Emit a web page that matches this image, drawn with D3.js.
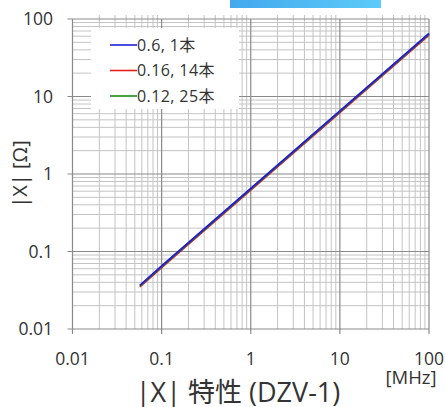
<!DOCTYPE html>
<html>
<head>
<meta charset="utf-8">
<script src="https://cdn.jsdelivr.net/npm/d3@7"></script>
<style>
  body { margin: 0; background: #fff; }
  svg { display: block; }
  text { font-family: "Open Sans", "Noto Sans CJK JP", sans-serif; fill: #333; }
</style>
</head>
<body>
<svg id="chart" width="445" height="407"></svg>
<script>
// frequency [MHz]
var freqs = [0.057, 0.1, 1, 10, 100];
// |X| [ohm] per wire spec
var seriesNames = ["0.6, 1本", "0.16, 14本", "0.12, 25本"];
var seriesColors = ["#1f1fd6", "#e8201a", "#1a8a1a"];
var blueVals  = [0.0365, 0.065, 0.65, 6.5, 65];
var redVals   = [0.035, 0.062, 0.62, 6.2, 62];
var greenVals = [0.036, 0.064, 0.64, 6.4, 64];
var tickVals = [0.01, 0.1, 1, 10, 100];
var tickLabels = ["0.01", "0.1", "1", "10", "100"];

var svg = d3.select("#chart");

var x = d3.scaleLog().domain([0.01, 100]).range([72.5, 429]);
var y = d3.scaleLog().domain([0.01, 100]).range([329, 19]);

// blue header bar
var grad = svg.append("defs").append("linearGradient").attr("id", "bar");
grad.append("stop").attr("offset", "0%").attr("stop-color", "#44a8ee");
grad.append("stop").attr("offset", "100%").attr("stop-color", "#5ccbf9");
svg.append("rect").attr("x", 230).attr("y", 0).attr("width", 151).attr("height", 8)
  .attr("fill", "url(#bar)");

// minor grid values
var minor = [];
tickVals.slice(0, 4).forEach(function(d) {
  for (var k = 2; k <= 9; k++) minor.push(d * k);
});

var grid = svg.append("g");
grid.selectAll(".vmin").data(minor).enter().append("line")
  .attr("x1", function(d) { return x(d); }).attr("x2", function(d) { return x(d); })
  .attr("y1", y(100) - 4).attr("y2", y(0.01))
  .attr("stroke", "#c4c4c4").attr("stroke-width", 1);
grid.selectAll(".hmin").data(minor).enter().append("line")
  .attr("y1", function(d) { return y(d); }).attr("y2", function(d) { return y(d); })
  .attr("x1", x(0.01)).attr("x2", x(100))
  .attr("stroke", "#c4c4c4").attr("stroke-width", 1);
grid.selectAll(".vmaj").data(tickVals).enter().append("line")
  .attr("x1", function(d) { return x(d); }).attr("x2", function(d) { return x(d); })
  .attr("y1", y(100)).attr("y2", y(0.01) + 5)
  .attr("stroke", "#8a8a8a").attr("stroke-width", 1.2);
grid.selectAll(".hmaj").data(tickVals).enter().append("line")
  .attr("y1", function(d) { return y(d); }).attr("y2", function(d) { return y(d); })
  .attr("x1", x(0.01) - 5).attr("x2", x(100))
  .attr("stroke", "#8a8a8a").attr("stroke-width", 1.2);

// legend box (drawn under the curves)
svg.append("rect").attr("x", 91).attr("y", 28).attr("width", 148).attr("height", 81)
  .attr("fill", "#fff");

// curves
var line = d3.line()
  .x(function(d) { return x(d[0]); })
  .y(function(d) { return y(d[1]); });
var allVals = [redVals, greenVals, blueVals];
var drawColors = [seriesColors[1], seriesColors[2], seriesColors[0]];
allVals.forEach(function(vals, i) {
  svg.append("path")
    .datum(freqs.map(function(f, j) { return [f, vals[j]]; }))
    .attr("d", line)
    .attr("fill", "none")
    .attr("stroke", drawColors[i])
    .attr("stroke-width", 1.8);
});

// legend entries
var leg = svg.append("g");
seriesNames.forEach(function(name, i) {
  var ly = 45 + i * 25.5;
  leg.append("line").attr("x1", 110).attr("x2", 137).attr("y1", ly).attr("y2", ly)
    .attr("stroke", seriesColors[i]).attr("stroke-width", 1.6);
  leg.append("text").attr("x", 137).attr("y", ly).attr("dy", "0.35em")
    .style("font-size", "16px").style("letter-spacing", "0.4px").text(name);
});

// tick labels
svg.selectAll(".ylab").data(tickVals).enter().append("text")
  .attr("x", 53).attr("y", function(d) { return y(d); }).attr("dy", "0.36em")
  .attr("text-anchor", "end").style("font-size", "17.5px")
  .text(function(d, i) { return tickLabels[i]; });
svg.selectAll(".xlab").data(tickVals).enter().append("text")
  .attr("x", function(d) { return x(d); }).attr("y", 359).attr("dy", "0.36em")
  .attr("text-anchor", "middle").style("font-size", "17.5px")
  .text(function(d, i) { return tickLabels[i]; });

svg.append("text").attr("x", 411).attr("y", 377).attr("dy", "0.36em")
  .attr("text-anchor", "middle").style("font-size", "18.5px").text("[MHz]");

svg.append("text").attr("x", 238).attr("y", 402)
  .attr("text-anchor", "middle").style("font-size", "27px").text("|X| 特性 (DZV-1)");

svg.append("text")
  .attr("transform", "translate(20,174) rotate(-90)")
  .attr("dy", "0.36em").attr("text-anchor", "middle")
  .style("font-size", "20px").text("|X| [Ω]");
</script>
</body>
</html>
